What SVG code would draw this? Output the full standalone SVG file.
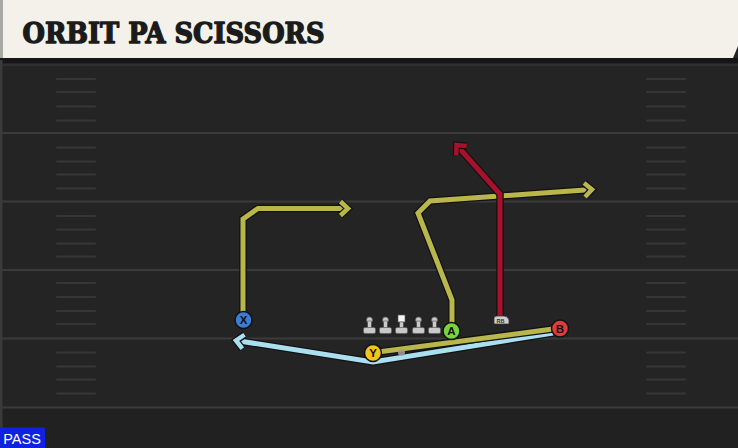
<svg xmlns="http://www.w3.org/2000/svg" width="738" height="448" viewBox="0 0 738 448">
<defs>
<style>
.yl{stroke:#3a3a3a;stroke-width:2;fill:none}
.hm{stroke:#363636;stroke-width:2;fill:none;stroke-linecap:round}
.rt-o{fill:none;stroke:#121212;stroke-width:7.5;stroke-linejoin:miter;stroke-linecap:butt}
.olive{fill:none;stroke:#b8b64c;stroke-width:5;stroke-linejoin:miter}
.red{fill:none;stroke:#a8102c;stroke-width:5;stroke-linejoin:miter}
.blue{fill:none;stroke:#a9dfee;stroke-width:5;stroke-linejoin:miter}
.pl{stroke:#111;stroke-width:1.5}
.lbl{font-family:"Liberation Sans",Arial,sans-serif;font-weight:bold;font-size:11.5px;fill:#111;text-anchor:middle}
.ol{fill:#c9c9c9;stroke:#555;stroke-width:0.6}
</style>
<marker id="ao" markerUnits="userSpaceOnUse" markerWidth="20" markerHeight="20" refX="0" refY="0" viewBox="-12 -10 16 20" orient="auto" overflow="visible">
<path d="M-7.5,-7 L0,0 L-7.5,7" fill="none" stroke="#121212" stroke-width="7"/>
<path d="M-7.5,-7 L0,0 L-7.5,7" fill="none" stroke="#b8b64c" stroke-width="4.5"/>
</marker>
<marker id="ar" markerUnits="userSpaceOnUse" markerWidth="20" markerHeight="20" refX="0" refY="0" viewBox="-12 -10 16 20" orient="auto" overflow="visible">
<path d="M-7.5,-7 L0,0 L-7.5,7" fill="none" stroke="#121212" stroke-width="7"/>
<path d="M-7.5,-7 L0,0 L-7.5,7" fill="none" stroke="#a8102c" stroke-width="4.5"/>
</marker>
<marker id="ab" markerUnits="userSpaceOnUse" markerWidth="20" markerHeight="20" refX="0" refY="0" viewBox="-12 -10 16 20" orient="auto" overflow="visible">
<path d="M-7.5,-7 L0,0 L-7.5,7" fill="none" stroke="#121212" stroke-width="7"/>
<path d="M-7.5,-7 L0,0 L-7.5,7" fill="none" stroke="#a9dfee" stroke-width="4.5"/>
</marker>
</defs>

<!-- field -->
<rect x="0" y="0" width="738" height="448" fill="#242424"/>
<rect x="0" y="408" width="738" height="40" fill="#212121"/>
<rect x="0" y="58" width="738" height="5" fill="#161616"/>
<line x1="0" y1="65" x2="738" y2="65" stroke="#303030" stroke-width="2"/>
<rect x="0" y="60" width="2.5" height="388" fill="#3a3a3a"/>
<g id="yardlines">
<line class="yl" x1="0" y1="133" x2="738" y2="133"/>
<line class="yl" x1="0" y1="201.5" x2="738" y2="201.5"/>
<line class="yl" x1="0" y1="270" x2="738" y2="270"/>
<line class="yl" x1="0" y1="338.5" x2="738" y2="338.5"/>
<line class="yl" x1="0" y1="407.5" x2="738" y2="407.5"/>
</g>
<g id="hashes">
<path class="hm" d="M57,79H95M57,92H95M57,106.5H95M57,120.5H95M57,147.5H95M57,161.5H95M57,174.5H95M57,188.5H95M57,216H95M57,229.5H95M57,243.5H95M57,256.5H95M57,283H95M57,297H95M57,311H95M57,324H95M57,352.5H95M57,366.5H95M57,379.5H95M57,393.5H95"/>
<path class="hm" d="M647,79H685M647,92H685M647,106.5H685M647,120.5H685M647,147.5H685M647,161.5H685M647,174.5H685M647,188.5H685M647,216H685M647,229.5H685M647,243.5H685M647,256.5H685M647,283H685M647,297H685M647,311H685M647,324H685M647,352.5H685M647,366.5H685M647,379.5H685M647,393.5H685"/>
</g>

<!-- header -->
<g id="header">
<path d="M0,0 H738 V46 L733,58 H0 Z" fill="#f4f1ea"/>
<rect x="0" y="0" width="3" height="58" fill="#a8a8a4"/>
<text x="22.5" y="42.5" font-family="'DejaVu Serif','Liberation Serif',serif" font-weight="bold" font-size="28" fill="#1b1b1b" stroke="#1b1b1b" stroke-width="1.4" stroke-linejoin="round" textLength="302" lengthAdjust="spacingAndGlyphs">ORBIT PA SCISSORS</text>
</g>

<!-- connectors -->
<g id="connectors">
<polyline class="rt-o" points="243,318 243,219 258,208.5 348,208.5"/>
<polyline class="olive" points="243,318 243,219 258,208.5 348,208.5" marker-end="url(#ao)"/>

<polyline class="rt-o" points="452,325 452,300 418,213 430,201 592,189.5"/>
<polyline class="olive" points="452,325 452,300 418,213 430,201 592,189.5" marker-end="url(#ao)"/>

<polyline class="rt-o" points="500,318 500,194 456.5,145"/>
<polyline class="red" points="500,318 500,194 456.5,145" marker-end="url(#ar)"/>

<polyline class="rt-o" points="553,333 373,362 236,340.5"/>
<polyline class="blue" points="553,333 373,362 236,340.5" marker-end="url(#ab)"/>

<polyline class="rt-o" points="378,352 553,329"/>
<polyline class="olive" points="378,352 553,329"/>
</g>

<!-- offensive line -->
<g id="oline">
<g id="lt"><circle class="ol" cx="369.5" cy="320" r="3"/><rect class="ol" x="367.7" y="321" width="3.6" height="7"/><rect class="ol" x="363.5" y="327.5" width="12" height="6" rx="1.5"/></g>
<g id="lg"><circle class="ol" cx="385.5" cy="320" r="3"/><rect class="ol" x="383.7" y="321" width="3.6" height="7"/><rect class="ol" x="379.5" y="327.5" width="12" height="6" rx="1.5"/></g>
<g id="c"><rect x="398" y="315" width="7" height="7" fill="#f4f4f4" stroke="#555" stroke-width="0.6"/><rect class="ol" x="399.7" y="322" width="3.6" height="6"/><rect class="ol" x="395.5" y="327.5" width="12" height="6" rx="1.5"/></g>
<g id="rg"><circle class="ol" cx="418.5" cy="320" r="3"/><rect class="ol" x="416.7" y="321" width="3.6" height="7"/><rect class="ol" x="412.5" y="327.5" width="12" height="6" rx="1.5"/></g>
<g id="rt"><circle class="ol" cx="434.5" cy="320" r="3"/><rect class="ol" x="432.7" y="321" width="3.6" height="7"/><rect class="ol" x="428.5" y="327.5" width="12" height="6" rx="1.5"/></g>
</g>

<!-- ball / qb spot -->
<g id="qb"><circle cx="401.5" cy="352.5" r="3.5" fill="#a0a0a0" opacity="0.85"/></g>

<!-- RB -->
<g id="rb">
<path d="M494,324 L494,318 Q494,316 497,316 L504,316 Q508,316 509,320 L509,324 Z" fill="#cfcfcf" stroke="#333" stroke-width="0.8"/>
<text x="500.5" y="322.8" font-family="'Liberation Sans',Arial,sans-serif" font-weight="bold" font-size="5.5" fill="#333" text-anchor="middle">RB</text>
</g>

<!-- players -->
<g id="X"><circle class="pl" cx="243.5" cy="320" r="8.5" fill="#3b7dd6"/><text class="lbl" x="243.5" y="324.2">X</text></g>
<g id="Y"><circle class="pl" cx="373" cy="353" r="8.5" fill="#f2c41c"/><text class="lbl" x="373" y="357.2">Y</text></g>
<g id="A"><circle class="pl" cx="451.5" cy="331" r="8.5" fill="#79d43e"/><text class="lbl" x="451.5" y="335.2">A</text></g>
<g id="B"><circle class="pl" cx="560" cy="328.5" r="8.5" fill="#e23b3e"/><text class="lbl" x="560" y="332.7">B</text></g>

<!-- PASS tag -->
<g id="pass">
<rect x="0" y="427.5" width="45" height="20.5" fill="#0f22e0"/>
<text x="22" y="443.5" font-family="'Liberation Sans',Arial,sans-serif" font-size="14.5" fill="#ffffff" text-anchor="middle">PASS</text>
</g>
</svg>
